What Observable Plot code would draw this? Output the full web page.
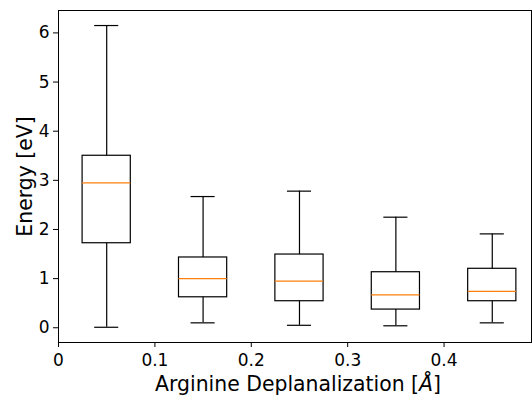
<!DOCTYPE html>
<html>
<head>
<meta charset="utf-8">
<script src="https://cdn.jsdelivr.net/npm/d3@7"></script>
<script src="https://cdn.jsdelivr.net/npm/@observablehq/plot@0.6"></script>
<style>
  html, body { margin: 0; padding: 0; background: white; }
</style>
</head>
<body>
<div id="chart"></div>
<script>
// Box plot statistics
const positions   = [0.05, 0.15, 0.25, 0.35, 0.45];
const whiskerLow  = [0.01, 0.10, 0.05, 0.04, 0.10];
const q1          = [1.72, 0.62, 0.54, 0.37, 0.54];
const median      = [2.95, 1.00, 0.95, 0.67, 0.74];
const q3          = [3.50, 1.43, 1.49, 1.13, 1.20];
const whiskerHigh = [6.15, 2.67, 2.78, 2.25, 1.91];

const xTicks = [0, 0.1, 0.2, 0.3, 0.4];
const yTicks = [0, 1, 2, 3, 4, 5, 6];
const xLabel = "Arginine Deplanalization [Å]";
const yLabel = "Energy [eV]";

const data = positions.map((p, i) => ({
  pos: p, lo: whiskerLow[i], q1: q1[i], med: median[i], q3: q3[i], hi: whiskerHigh[i]
}));

const boxHalf = 0.025, capHalf = 0.0125;

const chart = Plot.plot({
  width: 532,
  height: 395,
  marginLeft: 58,
  marginRight: 1,
  marginTop: 10,
  marginBottom: 53,
  style: { fontFamily: "DejaVu Sans", fontSize: "17px", background: "white", color: "black" },
  x: { domain: [0, 0.4907] },
  y: { domain: [-0.30, 6.456] },
  marks: [
    Plot.ruleX(data, { x: "pos", y1: "q3", y2: "hi", stroke: "black", strokeWidth: 1.2 }),
    Plot.ruleX(data, { x: "pos", y1: "lo", y2: "q1", stroke: "black", strokeWidth: 1.2 }),
    Plot.ruleY(data, { y: "hi", x1: d => d.pos - capHalf, x2: d => d.pos + capHalf, stroke: "black", strokeWidth: 1.2 }),
    Plot.ruleY(data, { y: "lo", x1: d => d.pos - capHalf, x2: d => d.pos + capHalf, stroke: "black", strokeWidth: 1.2 }),
    Plot.rect(data, { x1: d => d.pos - boxHalf, x2: d => d.pos + boxHalf, y1: "q1", y2: "q3", fill: "none", stroke: "black", strokeWidth: 1.2 }),
    Plot.ruleY(data, { y: "med", x1: d => d.pos - boxHalf, x2: d => d.pos + boxHalf, stroke: "#ff7f0e", strokeWidth: 1.2 }),
    Plot.frame({ stroke: "black", strokeWidth: 1 }),
    Plot.axisX({ ticks: xTicks, tickSize: 5, tickPadding: 6, label: null, fontSize: 17, tickFormat: d3.format("") }),
    Plot.axisY({ ticks: yTicks, tickSize: 5, tickPadding: 4, label: null, fontSize: 17, tickFormat: d3.format("d") }),
    Plot.text([xLabel], { text: d => d, frameAnchor: "bottom", textAnchor: "middle", lineAnchor: "middle", dx: 3, dy: 41.5, fontSize: 20.4, fill: "black" }),
    Plot.text([yLabel], { text: d => d, frameAnchor: "left", textAnchor: "middle", lineAnchor: "middle", dx: -33, rotate: -90, fontSize: 20.4, fill: "black" })
  ]
});

// italicize the Å like matplotlib mathtext
chart.querySelectorAll("text").forEach(t => {
  if (t.textContent === xLabel) {
    const tspan = t.querySelector("tspan") || t;
    tspan.textContent = "";
    const parts = ["Arginine Deplanalization [", "Å", "]"];
    parts.forEach((s, i) => {
      const ts = document.createElementNS("http://www.w3.org/2000/svg", "tspan");
      ts.textContent = s;
      if (i === 1) ts.setAttribute("font-style", "italic");
      tspan.appendChild(ts);
    });
  }
});

document.getElementById("chart").appendChild(chart);
</script>
</body>
</html>
